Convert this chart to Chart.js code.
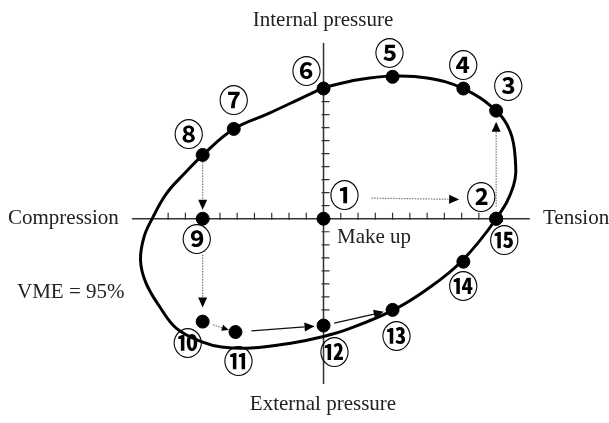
<!DOCTYPE html>
<html>
<head>
<meta charset="utf-8">
<script src="https://cdn.jsdelivr.net/npm/chart.js@4"></script>
<style>
  body { margin: 0; background: #fff; }
  #wrap { width: 609px; height: 423px; }
</style>
</head>
<body>
<div id="wrap"><canvas id="myChart" width="609" height="423"></canvas></div>
<script>
// load steps on the VME ellipse (axes are in tick units)
const stepLabels = ['①', '②', '③', '④', '⑤', '⑥', '⑦', '⑧', '⑨', '⑩', '⑪', '⑫', '⑬', '⑭', '⑮'];
const stepX = [0, 10, 10, 8.1, 4, 0, -5.2, -7, -7, -7, -5.1, 0, 4, 8.1, 10];
const stepY = [0, 0, 8.3, 10, 10.9, 10, 6.9, 4.9, 0, -7.9, -8.7, -8.2, -7, -3.3, 0];

// the 95% VME envelope
const envelopeX = [0, 2, 4, 6, 8.1, 10, 10.8, 11.1, 11, 10, 8, 6, 4, 1.5, 0, -1.9, -4.2, -5.9, -7, -8.5, -9.5, -10.3, -10.6, -10.4, -9.9, -9.1, -8.1, -7, -5.2, -3.2, -1.4, 0];
const envelopeY = [10.07, 10.67, 10.96, 10.81, 10, 8.3, 6.74, 4.74, 2.52, 0, -3.26, -5.41, -7.04, -8.44, -9.04, -9.56, -9.93, -9.85, -9.48, -8.44, -6.74, -4.89, -3.19, -1.41, 0.07, 1.93, 3.41, 4.89, 6.89, 8.07, 9.19, 10.07];

// tick marks on the two axes
const ticksX = [-9, -8, -7, -6, -5, -4, -3, -2, -1, 1, 2, 3, 4, 5, 6, 7, 8, 9];
const ticksY = [-8, -7, -6, -5, -4, -3, -2, -1, 1, 2, 3, 4, 5, 6, 7, 8, 9];
const axisRangeX = [-11.1, 11.95];
const axisRangeY = [-12.7, 13.5];

// where each circled number sits next to its dot (px)
const labelOffsets = [[21, -21], [-15, -19], [12, -22], [0, -21], [-3, -21], [-17, -15], [0, -26], [-14, -18],
  [-6, 23], [-15, 24], [3, 32], [11, 29], [4, 29], [0, 27], [8, 24]];

// path arrows between steps: [from, to, trimStart, trimEnd, dotted, fromLabels, headSize]
const arrows = [
  [0, 1, 27, 22, true, true, 10],
  [1, 2, 12, 11, true, false, 10],
  [7, 8, 7, 9, true, false, 10],
  [8, 9, 36, 14, true, false, 10],
  [9, 10, 11, 7, true, false, 7],
  [10, 11, 16, 9, false, false, 10],
  [11, 12, 11, 9, false, false, 10]
];

const barCtx = document.getElementById('myChart').getContext('2d');
const serif = '21px "Liberation Serif", "Times New Roman", serif';

function drawArrow(ctx, x1, y1, x2, y2, dotted, head) {
    const ang = Math.atan2(y2 - y1, x2 - x1);
    const bx = x2 - Math.cos(ang) * head, by = y2 - Math.sin(ang) * head;
    ctx.save();
    ctx.strokeStyle = dotted ? '#777' : '#111';
    ctx.lineWidth = dotted ? 1.2 : 1.4;
    ctx.setLineDash(dotted ? [1.5, 1.2] : []);
    ctx.beginPath();
    ctx.moveTo(x1, y1);
    ctx.lineTo(bx, by);
    ctx.stroke();
    ctx.setLineDash([]);
    ctx.fillStyle = '#000';
    ctx.beginPath();
    ctx.moveTo(x2, y2);
    ctx.lineTo(bx + Math.sin(ang) * head * 0.45, by - Math.cos(ang) * head * 0.45);
    ctx.lineTo(bx - Math.sin(ang) * head * 0.45, by + Math.cos(ang) * head * 0.45);
    ctx.closePath();
    ctx.fill();
    ctx.restore();
}

const axesPlugin = {
    id: 'crossAxes',
    beforeDatasetsDraw(chart) {
        const ctx = chart.ctx;
        const sx = chart.scales.x, sy = chart.scales.y;
        const ox = sx.getPixelForValue(0), oy = sy.getPixelForValue(0);
        ctx.save();
        ctx.strokeStyle = '#333';
        ctx.lineWidth = 1.5;
        ctx.beginPath();
        ctx.moveTo(sx.getPixelForValue(axisRangeX[0]), oy);
        ctx.lineTo(sx.getPixelForValue(axisRangeX[1]), oy);
        ctx.moveTo(ox, sy.getPixelForValue(axisRangeY[1]));
        ctx.lineTo(ox, sy.getPixelForValue(axisRangeY[0]));
        ctx.stroke();
        ctx.lineWidth = 1.2;
        ctx.beginPath();
        ticksX.forEach(v => {
            const px = sx.getPixelForValue(v);
            ctx.moveTo(px, oy - 6);
            ctx.lineTo(px, oy + 1);
        });
        ticksY.forEach(v => {
            const py = sy.getPixelForValue(v);
            ctx.moveTo(ox - 2, py);
            ctx.lineTo(ox + 6, py);
        });
        ctx.stroke();

        // arrows
        arrows.forEach(a => {
            let x1 = sx.getPixelForValue(stepX[a[0]]), y1 = sy.getPixelForValue(stepY[a[0]]);
            let x2 = sx.getPixelForValue(stepX[a[1]]), y2 = sy.getPixelForValue(stepY[a[1]]);
            if (a[5]) {
                x1 += labelOffsets[a[0]][0]; y1 += labelOffsets[a[0]][1];
                x2 += labelOffsets[a[1]][0]; y2 += labelOffsets[a[1]][1];
            }
            const len = Math.hypot(x2 - x1, y2 - y1);
            const ux = (x2 - x1) / len, uy = (y2 - y1) / len;
            drawArrow(ctx, x1 + ux * a[2], y1 + uy * a[2], x2 - ux * a[3], y2 - uy * a[3], a[4], a[6]);
        });
        ctx.restore();
    },
    afterDatasetsDraw(chart) {
        const ctx = chart.ctx;
        const sx = chart.scales.x, sy = chart.scales.y;
        ctx.save();
        ctx.fillStyle = '#000';
        ctx.font = 'bold 30px "Noto Sans CJK JP", "DejaVu Sans", sans-serif';
        ctx.textAlign = 'center';
        ctx.textBaseline = 'middle';
        stepLabels.forEach((t, i) => {
            const px = sx.getPixelForValue(stepX[i]) + labelOffsets[i][0];
            const py = sy.getPixelForValue(stepY[i]) + labelOffsets[i][1] - 3; // CJK glyphs sit a bit low
            ctx.fillText(t, px, py);
        });

        ctx.fillStyle = '#222';
        ctx.font = serif;
        ctx.fillText('Internal pressure', 323, 20);
        ctx.fillText('External pressure', 323, 404);
        ctx.textAlign = 'left';
        ctx.fillText('Compression', 8, 218);
        ctx.fillText('Tension', 543, 218);
        ctx.fillText('Make up', 337, 237);
        ctx.fillText('VME = 95%', 17, 292);
        ctx.restore();
    }
};

new Chart(barCtx, {
    type: 'scatter',
    data: {
        datasets: [{
            label: 'VME envelope',
            data: envelopeX.map((x, i) => ({ x: x, y: envelopeY[i] })),
            showLine: true,
            borderColor: '#000',
            borderWidth: 3,
            tension: 0.4,
            pointRadius: 0,
            fill: false
        }, {
            label: 'Load steps',
            data: stepX.map((x, i) => ({ x: x, y: stepY[i] })),
            backgroundColor: '#000',
            borderColor: '#000',
            pointRadius: 6.5,
            pointHoverRadius: 6.5
        }]
    },
    options: {
        responsive: false,
        animation: false,
        devicePixelRatio: 1,
        layout: { padding: 0 },
        plugins: { legend: { display: false }, tooltip: { enabled: false } },
        scales: {
            x: { type: 'linear', display: false, min: -324 / 17.7, max: (609 - 324) / 17.7 },
            y: { type: 'linear', display: false, min: -(423 - 219) / 13.5, max: 219 / 13.5 }
        }
    },
    plugins: [axesPlugin]
});
</script>
</body>
</html>
